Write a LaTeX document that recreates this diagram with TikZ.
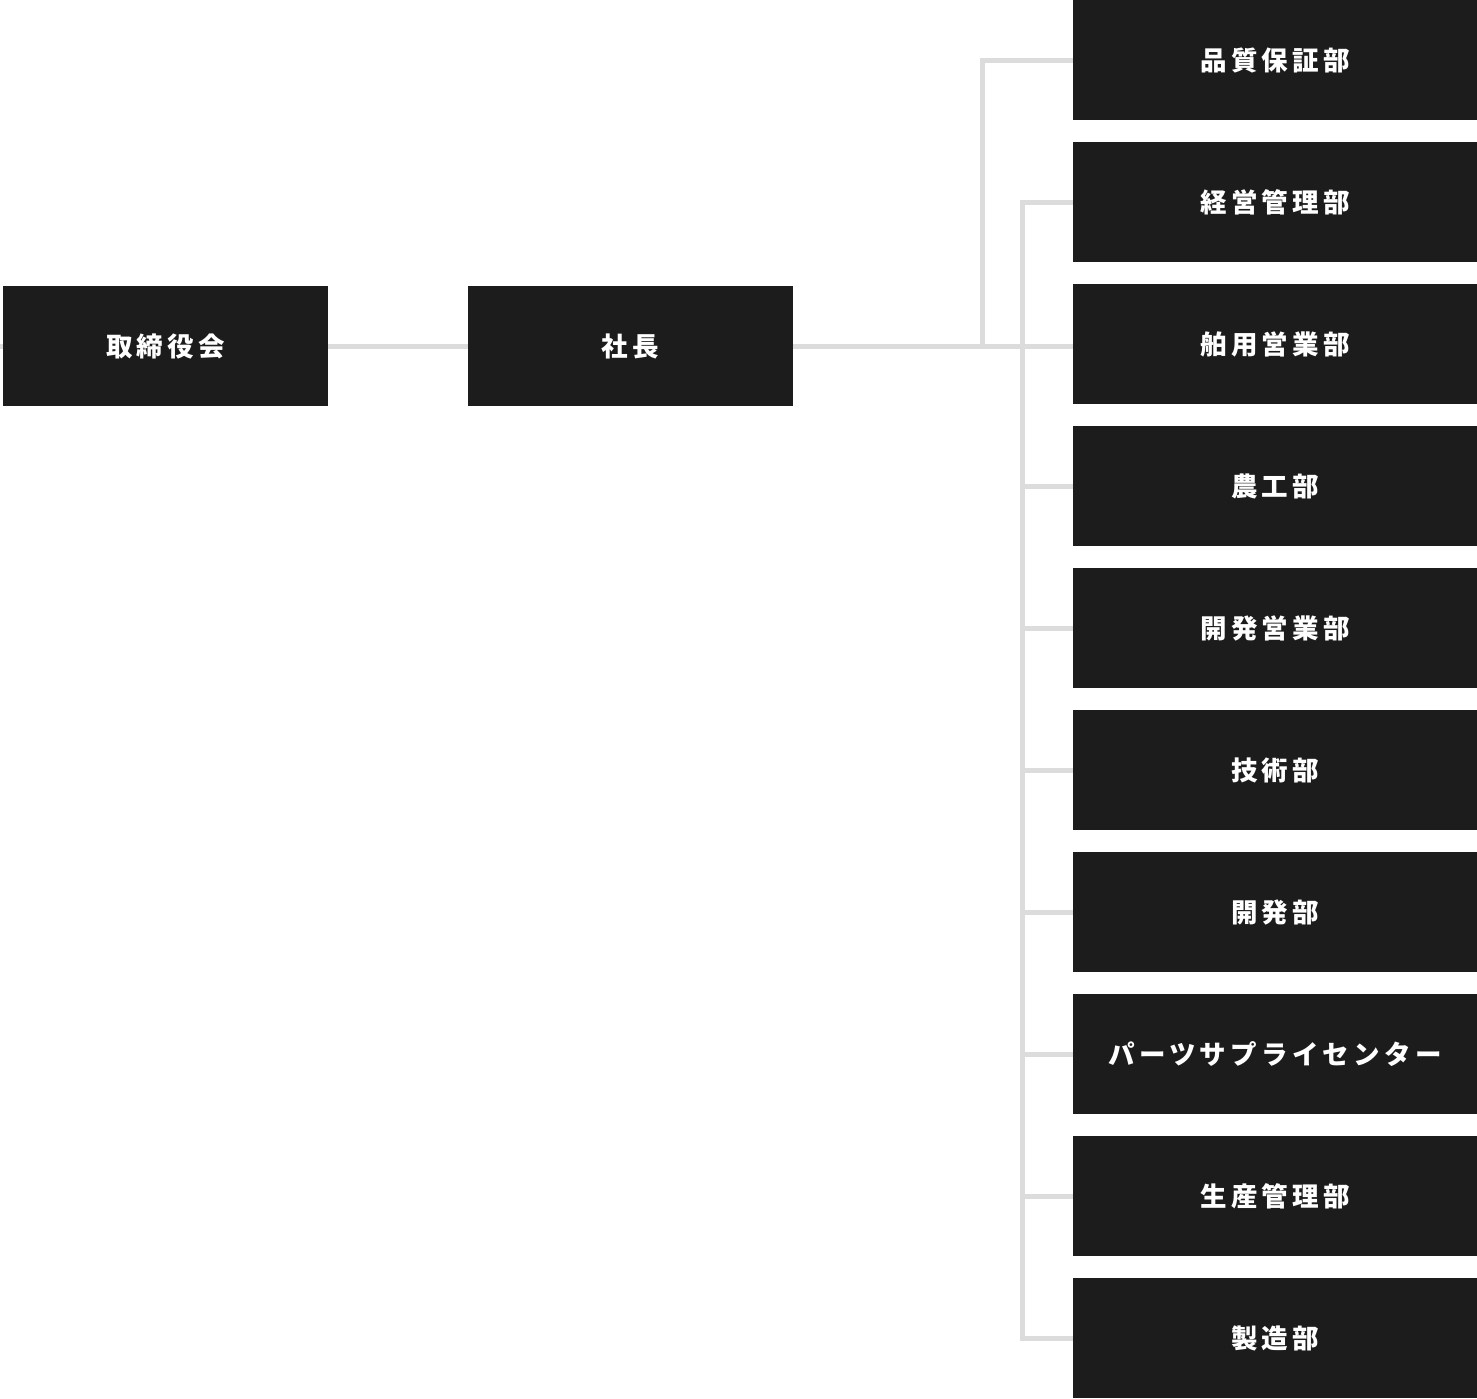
\documentclass[tikz,border=0pt]{standalone}
\usepackage{fontspec}
\newfontfamily\jpfont[LetterSpace=16]{Noto Sans CJK JP}
\definecolor{boxgray}{HTML}{1C1C1C}
\definecolor{linegray}{HTML}{DCDCDC}
\tikzset{
  orgbox/.style={fill=boxgray, text=white, inner sep=0pt, minimum height=120pt,
    font=\jpfont\bfseries\fontsize{26.5}{30}\selectfont},
  link/.style={draw=linegray, line width=5pt}
}
\begin{document}
\begin{tikzpicture}[x=1pt,y=-1pt]
  %%%%% FRAME %%%%%
  \useasboundingbox (0,0) rectangle (1477,1398);

  %%%%% TOP %%%%%
  \node[orgbox, minimum width=325pt] (board) at (165.5,346) {取締役会};
  \node[orgbox, minimum width=325pt] (ceo) at (630.5,346) {社長};

  %%%%% DEPARTMENTS %%%%%
  \foreach \name [count=\i] in {品質保証部,経営管理部,舶用営業部,農工部,開発営業部,技術部,開発部,パーツサプライセンター,生産管理部,製造部}
    \node[orgbox, minimum width=404pt] (d\i) at (1275,{60+142*(\i-1)}) {\name};

  %%%%% LINES %%%%%
  \coordinate (edge) at (0,346);
  \coordinate (fork) at (982,346);
  \coordinate (spine) at (1022.5,346);

  \draw[link] (edge) -- (board.west);
  \draw[link] (board) -- (ceo);
  \draw[link] (ceo.east) -- (ceo.east -| d3.west);
  \draw[link] (fork) |- (d1.west);
  \draw[link] (d2.west) -| (spine |- d10.west) -- (d10.west);
  \foreach \i in {4,...,9}
    \draw[link] (spine |- d\i.west) -- (d\i.west);
\end{tikzpicture}
\end{document}
